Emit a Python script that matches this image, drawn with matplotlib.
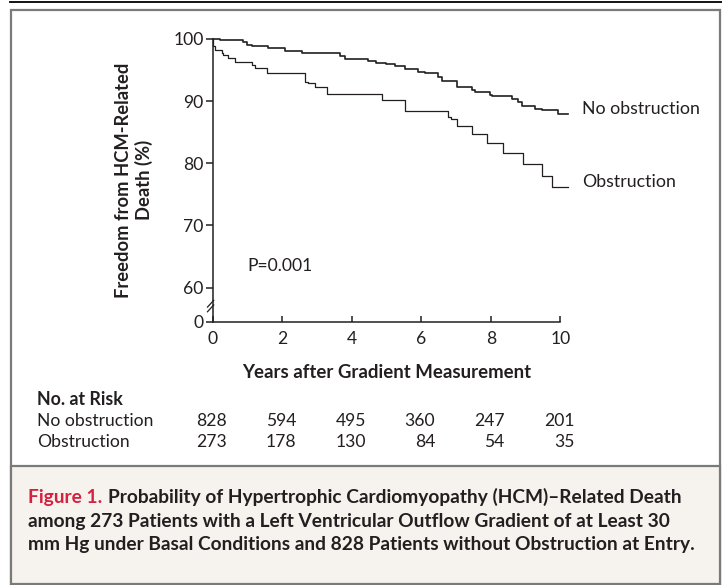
import matplotlib
matplotlib.use("Agg")
import matplotlib.pyplot as plt
from matplotlib.patches import Rectangle
from matplotlib.lines import Line2D

plt.rcParams["font.family"] = ["Lato", "DejaVu Sans"]

# Kaplan-Meier steps
years_no = [0, 0.21, 0.88, 0.98, 1.12, 1.6, 2.08, 2.56, 3.66, 3.81, 4.48, 4.7,
            5.0, 5.25, 5.53, 5.92, 6.11, 6.49, 6.59, 7.02, 7.45, 7.55, 7.98,
            8.03, 8.6, 8.79, 8.89, 9.27, 9.46, 9.94, 10.23]
surv_no = [100, 99.8, 99.5, 99.1, 98.9, 98.5, 98.1, 97.7, 97.2, 96.7, 96.4, 96.2,
           95.9, 95.6, 95.1, 94.7, 94.5, 93.9, 93.2, 92.3, 91.8, 91.5, 91.0,
           90.8, 90.4, 89.9, 89.2, 88.8, 88.5, 87.9, 87.9]

years_obs = [0, 0.02, 0.07, 0.26, 0.31, 0.45, 0.64, 1.12, 1.22, 1.55, 2.66, 2.75,
             2.94, 3.3, 4.88, 5.53, 6.78, 6.85, 7.02, 7.45, 7.88, 8.36, 8.94,
             9.46, 9.75, 10.23]
surv_obs = [100, 98.8, 98.3, 97.8, 97.4, 96.9, 96.3, 95.8, 95.3, 94.6, 93.1, 92.9,
            92.3, 91.1, 90.2, 88.4, 87.5, 87.2, 86.0, 84.7, 83.2, 81.7, 79.9,
            77.9, 76.1, 76.1]

risk_years = [0, 2, 4, 6, 8, 10]
risk_no = [828, 594, 495, 360, 247, 201]
risk_obs = [273, 178, 130, 84, 54, 35]

y_ticks = [60, 70, 80, 90, 100]
AXIS_ZERO = 54.5   # where the "0" sits below the break

RED = "#d6203f"
INK = "#231f20"
GRAY = "#7a7a7a"

W, H = 722, 585
fig = plt.figure(figsize=(W / 100, H / 100), dpi=100)


def fx(px):
    return px / W


def fy(py):
    return 1 - py / H


# frame, caption band, top rule
fig.add_artist(Line2D([fx(10), 1], [fy(2.3), fy(2.3)], color="black", lw=1.3))
fig.add_artist(Rectangle((fx(10.5), fy(584)), fx(720) - fx(10.5), fy(10) - fy(584),
                         facecolor="white", edgecolor=GRAY, lw=1.6, zorder=-10))
fig.add_artist(Rectangle((fx(10.5), fy(584)), fx(720) - fx(10.5), fy(466) - fy(584),
                         facecolor="#f6f3ee", edgecolor=GRAY, lw=1.6, zorder=-9))

ax = fig.add_axes([fx(212.7), fy(321.7), (570.7 - 212.7) / W, (321.7 - 37.1) / H])
ax.patch.set_visible(False)
ax.set_xlim(0, 10.3)
ax.set_ylim(AXIS_ZERO, 100.3)

ax.step(years_no, surv_no, where="post", color=INK, lw=1.2, clip_on=False)
ax.step(years_obs, surv_obs, where="post", color=INK, lw=0.9, clip_on=False)

for s in ["top", "right"]:
    ax.spines[s].set_visible(False)
ax.spines["left"].set_bounds(AXIS_ZERO, 100)
ax.spines["bottom"].set_bounds(0, 10)
for s in ["left", "bottom"]:
    ax.spines[s].set_linewidth(1.1)
    ax.spines[s].set_color(INK)

ax.set_xticks(risk_years)
ax.set_yticks([AXIS_ZERO] + y_ticks)
ax.set_yticklabels(["0"] + [str(v) for v in y_ticks])
ax.tick_params(axis="x", direction="in", length=4, width=1.1, pad=6.5,
               labelsize=12.6, colors=INK)
ax.tick_params(axis="y", direction="out", length=5.3, width=1.1, pad=1.2,
               labelsize=12.6, colors=INK)

# axis break
for dy in (0, 0.75):
    ax.plot([-0.15, 0.03], [56.1 + dy, 57.2 + dy], color=INK, lw=0.9, clip_on=False)

# curve labels sit on the last step
ax.text(10.62, surv_no[-1], "No obstruction", fontsize=12.8, color=INK, va="baseline")
ax.text(10.62, surv_obs[-1], "Obstruction", fontsize=12.8, color=INK, va="baseline")
ax.text(1.0, 63.4, "P=0.001", fontsize=12.6, color=INK, va="center")

fig.text(fx(134), fy(180), "Freedom from HCM-Related\nDeath (%)", rotation=90,
         ha="center", va="center", multialignment="center", fontsize=13.2,
         fontweight="bold", color=INK, linespacing=1.15)
fig.text(fx(386.5), fy(372), "Years after Gradient Measurement", ha="center",
         va="center", fontsize=13.4, fontweight="bold", color=INK)

# number at risk table
fig.text(fx(36.7), fy(405), "No. at Risk", fontsize=12.8, fontweight="bold",
         color=INK, va="baseline")
rows = [("No obstruction", risk_no, 426.5), ("Obstruction", risk_obs, 446.7)]
for name, counts, base in rows:
    fig.text(fx(36.7), fy(base), name, fontsize=12.6, color=INK, va="baseline")
    for yr, n in zip(risk_years, counts):
        ax.annotate(str(n), xy=(yr, fy(base)), xycoords=("data", "figure fraction"),
                    xytext=(14, 0), textcoords="offset pixels", ha="right",
                    va="baseline", fontsize=12.6, color=INK, annotation_clip=False)

# caption
cap_fs = 13.8
fig.canvas.draw()
r = fig.canvas.get_renderer()
lead = fig.text(fx(28.3), fy(503.3), "Figure 1.", color=RED, fontsize=cap_fs,
                fontweight="bold", va="baseline")
w = lead.get_window_extent(r).width
fig.text(fx(28.3 + w + 5), fy(503.3),
         "Probability of Hypertrophic Cardiomyopathy (HCM)\u2013Related Death",
         color=INK, fontsize=cap_fs, fontweight="bold", va="baseline")
fig.text(fx(28.3), fy(526.5),
         "among 273 Patients with a Left Ventricular Outflow Gradient of at Least 30",
         color=INK, fontsize=cap_fs, fontweight="bold", va="baseline")
fig.text(fx(28.3), fy(549.7),
         "mm Hg under Basal Conditions and 828 Patients without Obstruction at Entry.",
         color=INK, fontsize=cap_fs, fontweight="bold", va="baseline")

fig.savefig("out.png", dpi=100, facecolor="white")
